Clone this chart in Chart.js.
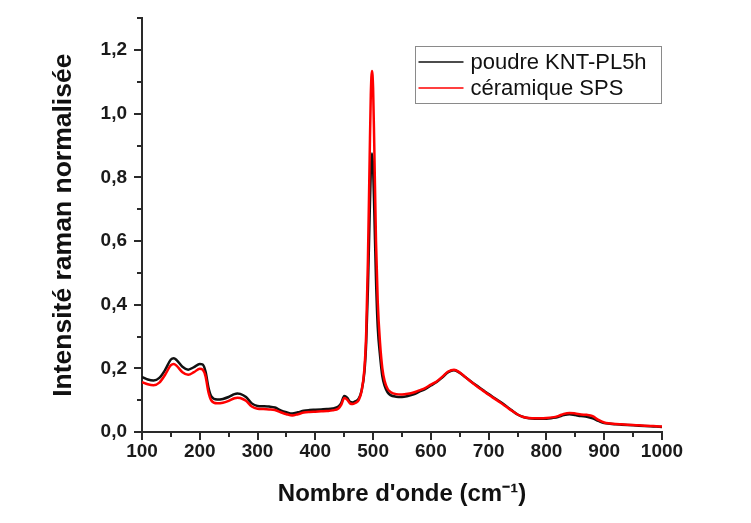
<!DOCTYPE html>
<html>
<head>
<meta charset="utf-8">
<script src="https://cdn.jsdelivr.net/npm/chart.js@4"></script>
<style>
  html, body { margin: 0; padding: 0; background: #ffffff; }
  #wrap { width: 751px; height: 523px; position: relative; }
</style>
</head>
<body>
<div id="wrap"><canvas id="c" width="751" height="523"></canvas></div>
<script>
// ---- Data ----
const wavenumbers = [100,110,120,130,140,150,155,160,170,180,190,200,205,210,215,220,230,240,250,260,265,270,280,290,300,310,320,330,340,350,360,370,380,390,400,410,420,430,440,445,450,455,460,465,470,475,480,485,488,491,494,496,498,500,502,505,508,512,516,520,525,530,540,550,560,570,580,590,600,610,620,630,640,650,660,670,680,690,700,710,720,730,740,750,760,770,780,790,800,810,820,830,840,850,860,870,880,890,900,910,920,930,940,950,960,970,980,990,1000];

const poudreKNT = [0.173,0.165,0.162,0.170,0.195,0.228,0.232,0.226,0.205,0.196,0.204,0.214,0.212,0.190,0.140,0.112,0.102,0.104,0.110,0.119,0.121,0.120,0.110,0.090,0.082,0.081,0.080,0.077,0.068,0.062,0.058,0.062,0.067,0.069,0.070,0.071,0.072,0.074,0.080,0.092,0.113,0.108,0.095,0.093,0.097,0.105,0.130,0.190,0.280,0.450,0.680,0.820,0.875,0.830,0.700,0.480,0.330,0.240,0.175,0.145,0.125,0.116,0.111,0.110,0.113,0.118,0.127,0.135,0.146,0.157,0.172,0.188,0.194,0.186,0.172,0.158,0.145,0.132,0.119,0.107,0.095,0.082,0.068,0.055,0.047,0.043,0.042,0.042,0.042,0.044,0.047,0.053,0.056,0.053,0.050,0.048,0.043,0.035,0.028,0.026,0.024,0.023,0.022,0.021,0.020,0.019,0.018,0.017,0.016];

const ceramiqueSPS = [0.157,0.150,0.147,0.155,0.180,0.210,0.214,0.208,0.188,0.180,0.188,0.199,0.196,0.175,0.125,0.099,0.090,0.092,0.098,0.106,0.108,0.107,0.098,0.080,0.073,0.072,0.071,0.069,0.062,0.056,0.052,0.056,0.061,0.063,0.064,0.065,0.066,0.068,0.074,0.086,0.107,0.102,0.090,0.088,0.092,0.100,0.128,0.200,0.310,0.540,0.860,1.060,1.135,1.080,0.900,0.600,0.410,0.280,0.200,0.160,0.136,0.126,0.119,0.118,0.120,0.124,0.131,0.138,0.149,0.159,0.174,0.190,0.196,0.187,0.172,0.157,0.143,0.130,0.117,0.105,0.093,0.080,0.067,0.055,0.047,0.044,0.043,0.043,0.044,0.046,0.050,0.057,0.060,0.058,0.055,0.054,0.050,0.038,0.030,0.027,0.025,0.024,0.023,0.022,0.021,0.020,0.019,0.018,0.017];

const seriesLabels = ['poudre KNT-PL5h', 'céramique SPS'];
const seriesColors = ['#111111', '#ff0000'];
const xTitle = "Nombre d'onde (cm\u207B\u00B9)";
const yTitle = 'Intensité raman normalisée';
const xMin = 100, xMax = 1000, xStep = 50, xLabelStep = 100;
const yMin = 0, yMax = 1.3, yStep = 0.1;

// ---- Build ----
const FONT = "'Liberation Sans', Arial, Helvetica, sans-serif";
const AXIS_COLOR = '#2a2a2a';

function toPoints(xs, ys) { return xs.map((x, i) => ({ x: x, y: ys[i] })); }

const tickMarks = {
  id: 'tickMarks',
  afterDraw(chart) {
    const ctx = chart.ctx;
    const xs = chart.scales.x, ys = chart.scales.y;
    const ca = chart.chartArea;
    ctx.save();
    ctx.strokeStyle = AXIS_COLOR;
    ctx.lineWidth = 2;
    xs.ticks.forEach(t => {
      const px = Math.round(xs.getPixelForValue(t.value));
      const major = t.label !== '';
      ctx.beginPath();
      ctx.moveTo(px, ca.bottom);
      ctx.lineTo(px, ca.bottom + (major ? 8 : 5));
      ctx.stroke();
    });
    ys.ticks.forEach(t => {
      const py = Math.round(ys.getPixelForValue(t.value));
      const major = t.label !== '';
      ctx.beginPath();
      ctx.moveTo(ca.left, py);
      ctx.lineTo(ca.left - (major ? 8 : 5), py);
      ctx.stroke();
    });
    ctx.restore();
  }
};

const boxLegend = {
  id: 'boxLegend',
  afterDraw(chart) {
    const ctx = chart.ctx;
    const ca = chart.chartArea;
    const bx = Math.round(ca.right - 247) + 0.5, by = 46.5, bw = 246, bh = 57;
    ctx.save();
    ctx.fillStyle = '#ffffff';
    ctx.fillRect(bx, by, bw, bh);
    ctx.strokeStyle = '#8a8a8a';
    ctx.lineWidth = 1;
    ctx.strokeRect(bx, by, bw, bh);
    ctx.font = '22px ' + FONT;
    ctx.textBaseline = 'middle';
    ctx.textAlign = 'left';
    chart.data.datasets.forEach((ds, i) => {
      const ly = by + 15.5 + i * 26;
      ctx.strokeStyle = ds.borderColor;
      ctx.lineWidth = 1.5;
      ctx.beginPath();
      ctx.moveTo(bx + 3, ly);
      ctx.lineTo(bx + 48, ly);
      ctx.stroke();
      ctx.fillStyle = '#111111';
      ctx.fillText(ds.label, bx + 55, ly + 1);
    });
    ctx.restore();
  }
};

const datasets = [
  { label: seriesLabels[0], data: toPoints(wavenumbers, poudreKNT), borderColor: seriesColors[0], order: 1 },
  { label: seriesLabels[1], data: toPoints(wavenumbers, ceramiqueSPS), borderColor: seriesColors[1], order: 0 }
].map(d => Object.assign(d, {
  borderWidth: 2.5, pointRadius: 0, fill: false, cubicInterpolationMode: 'monotone', backgroundColor: d.borderColor
}));

new Chart(document.getElementById('c'), {
  type: 'line',
  data: { datasets: datasets },
  options: {
    responsive: false,
    animation: false,
    devicePixelRatio: 1,
    layout: { padding: { left: 0, right: 89, top: 14, bottom: 0 } },
    plugins: { legend: { display: false }, tooltip: { enabled: false } },
    scales: {
      x: {
        type: 'linear', min: xMin, max: xMax,
        border: { display: true, color: AXIS_COLOR, width: 2 },
        grid: { display: true, drawOnChartArea: false, drawTicks: true, tickLength: 5, tickColor: 'rgba(0,0,0,0)' },
        ticks: {
          stepSize: xStep, padding: 3, maxRotation: 0, autoSkip: false,
          color: '#1a1a1a', font: { family: FONT, size: 19, weight: 'bold' },
          callback: v => (Math.round(v) % xLabelStep === 0 ? String(Math.round(v)) : '')
        },
        title: { display: true, text: xTitle, color: '#111111', padding: { top: 0, bottom: 14 },
          font: { family: FONT, size: 24, weight: 'bold' } },
        afterFit: s => { s.height = 91; }
      },
      y: {
        type: 'linear', min: yMin, max: yMax,
        border: { display: true, color: AXIS_COLOR, width: 2 },
        grid: { display: true, drawOnChartArea: false, drawTicks: true, tickLength: 8, tickColor: 'rgba(0,0,0,0)' },
        ticks: {
          stepSize: yStep, padding: 7, autoSkip: false,
          color: '#1a1a1a', font: { family: FONT, size: 19, weight: 'bold' },
          callback: v => (Math.round(v * 10) % 2 === 0 ? v.toFixed(1).replace('.', ',') : '')
        },
        title: { display: true, text: yTitle, color: '#111111', padding: { top: 48, bottom: 0 },
          font: { family: FONT, size: 26.5, weight: 'bold' } },
        afterFit: s => { s.width = 142; }
      }
    }
  },
  plugins: [tickMarks, boxLegend]
});
</script>
</body>
</html>
